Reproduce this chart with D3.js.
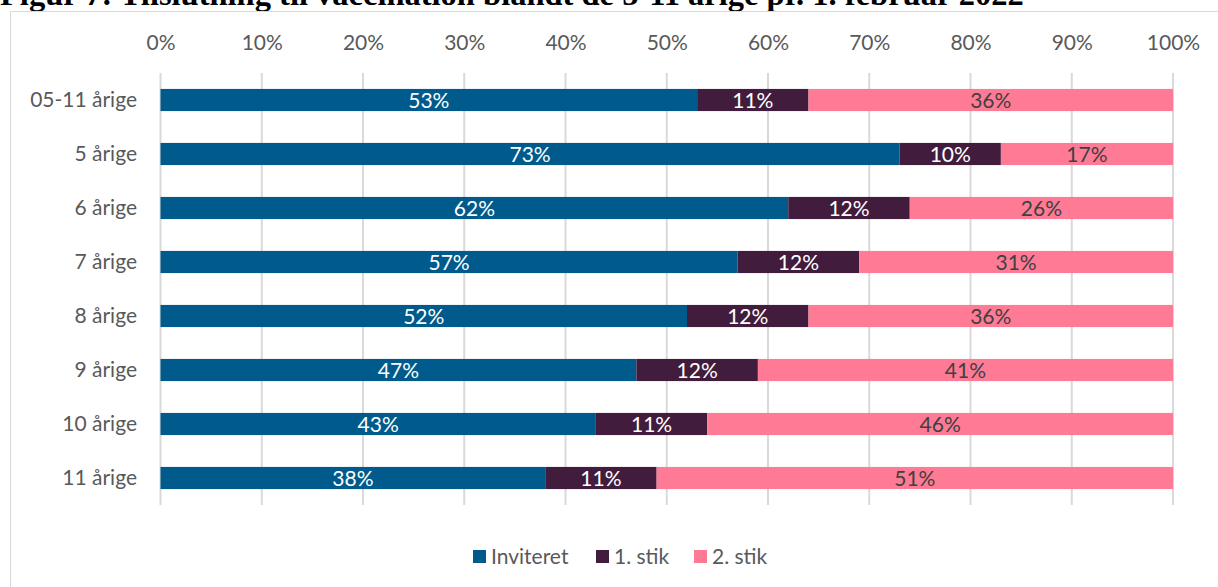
<!DOCTYPE html>
<html>
<head>
<meta charset="utf-8">
<script src="https://cdn.jsdelivr.net/npm/d3@7"></script>
<style>
  html, body { margin: 0; padding: 0; background: #fff; }
  svg { display: block; }
</style>
</head>
<body>
<svg id="chart" width="1218" height="587"></svg>
<script>
// Age groups and share per vaccination status (percent)
const categories = ["05-11 årige", "5 årige", "6 årige", "7 årige", "8 årige", "9 årige", "10 årige", "11 årige"];
const seriesNames = ["Inviteret", "1. stik", "2. stik"];
const inviteret = [53, 73, 62, 57, 52, 47, 43, 38];
const stik1 = [11, 10, 12, 12, 12, 12, 11, 11];
const stik2 = [36, 17, 26, 31, 36, 41, 46, 51];
const tickValues = [0, 10, 20, 30, 40, 50, 60, 70, 80, 90, 100];

const colors = ["#005B8C", "#421C3D", "#FF7A95"];
const labelColors = ["#ffffff", "#ffffff", "#404040"];
const font = "Lato, 'Open Sans', sans-serif";
const fontSize = 21;

const svg = d3.select("#chart");

// Title (its upper part runs past the top of the page)
svg.append("text")
  .attr("x", 0).attr("y", 5)
  .attr("font-family", "'Liberation Serif', 'Times New Roman', serif")
  .attr("font-weight", "bold")
  .attr("font-size", 32.5)
  .attr("fill", "#000")
  .text("Figur 7: Tilslutning til vaccination blandt de 5-11 årige pr. 1. februar 2022");

// Chart frame
svg.append("rect")
  .attr("x", 10.5).attr("y", 11.5)
  .attr("width", 1300).attr("height", 700)
  .attr("fill", "none").attr("stroke", "#d9d9d9").attr("stroke-width", 1);

const x = d3.scaleLinear().domain([0, 100]).range([160.5, 1173]);
const y = d3.scaleBand().domain(categories).range([73, 505]).paddingInner(0.59).paddingOuter(0.295);

// Gridlines
svg.append("g").selectAll("line").data(tickValues).join("line")
  .attr("x1", d => x(d)).attr("x2", d => x(d))
  .attr("y1", 73).attr("y2", 505)
  .attr("stroke", "#d9d9d9").attr("stroke-width", 2);

// Top axis labels
const xAxis = d3.axisTop(x).tickValues(tickValues).tickFormat(d => d + "%").tickSize(0).tickPadding(0);
const gx = svg.append("g").attr("transform", "translate(0,50)").call(xAxis);
gx.select(".domain").remove();
gx.selectAll("text").attr("font-family", font).attr("font-size", fontSize).attr("fill", "#595959");

// Category axis labels
const yAxis = d3.axisLeft(y).tickSize(0).tickPadding(0);
const gy = svg.append("g").attr("transform", "translate(137,0)").call(yAxis);
gy.select(".domain").remove();
gy.selectAll("text").attr("font-family", font).attr("font-size", fontSize).attr("fill", "#595959");

// Stacked bars
const rows = categories.map((c, i) => ({ cat: c, "Inviteret": inviteret[i], "1. stik": stik1[i], "2. stik": stik2[i] }));
const stacked = d3.stack().keys(seriesNames)(rows);

stacked.forEach((layer, si) => {
  const g = svg.append("g");
  g.selectAll("rect").data(layer).join("rect")
    .attr("x", d => x(d[0]))
    .attr("y", d => y(d.data.cat))
    .attr("width", d => x(d[1]) - x(d[0]))
    .attr("height", y.bandwidth())
    .attr("fill", colors[si]);
  g.selectAll("text").data(layer).join("text")
    .attr("x", d => (x(d[0]) + x(d[1])) / 2)
    .attr("y", d => y(d.data.cat) + y.bandwidth() / 2)
    .attr("dy", "0.36em")
    .attr("text-anchor", "middle")
    .attr("font-family", font).attr("font-size", fontSize)
    .attr("fill", labelColors[si])
    .text(d => d.data[layer.key] + "%");
});

// Legend
const legendX = [473, 596, 694];
const legend = svg.append("g");
seriesNames.forEach((name, i) => {
  legend.append("rect").attr("x", legendX[i]).attr("y", 550).attr("width", 13).attr("height", 13).attr("fill", colors[i]);
  legend.append("text").attr("x", legendX[i] + 18).attr("y", 556.5).attr("dy", "0.36em")
    .attr("font-family", font).attr("font-size", fontSize).attr("fill", "#595959").text(name);
});
</script>
</body>
</html>
